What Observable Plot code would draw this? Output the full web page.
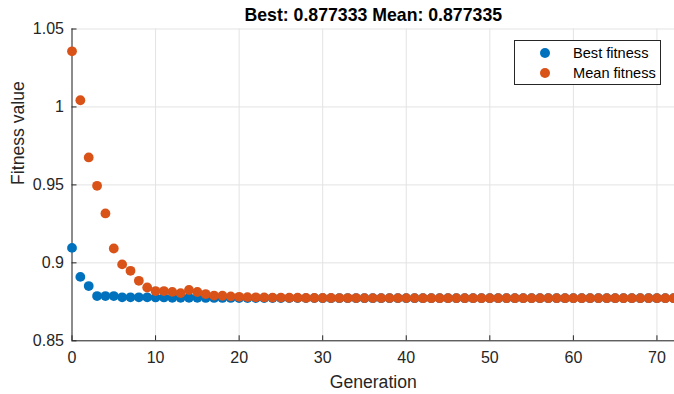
<!DOCTYPE html>
<html>
<head>
<meta charset="utf-8">
<script src="https://cdn.jsdelivr.net/npm/d3@7"></script>
<script src="https://cdn.jsdelivr.net/npm/@observablehq/plot@0.6"></script>
<style>
  html, body { margin: 0; padding: 0; background: #fff; }
  #wrap { position: relative; width: 674px; height: 394px; font-family: "Liberation Sans", Arial, Helvetica, sans-serif; }
  #legend { position: absolute; left: 514px; top: 40px; width: 147px; height: 45px; border: 1px solid #262626; background: #fff; box-sizing: border-box; font-size: 14.6px; color: #000; }
  .row { position: absolute; left: 0; height: 18px; line-height: 18px; white-space: nowrap; }
  .dot { position: absolute; left: 25px; top: 4px; width: 10px; height: 10px; border-radius: 50%; }
  .lab { position: absolute; left: 58px; top: 0; }
</style>
</head>
<body>
<div id="wrap"></div>
<script>
const title = "Best: 0.877333 Mean: 0.877335";
const xLabel = "Generation";
const yLabel = "Fitness value";
const seriesNames = ["Best fitness", "Mean fitness"];
const seriesColors = ["#0072BD", "#D95319"];
const xTicks = [0, 10, 20, 30, 40, 50, 60, 70];
const yTicks = [0.85, 0.9, 0.95, 1, 1.05];
const yTickLabels = ["0.85", "0.9", "0.95", "1", "1.05"];

const bestFitness = [
  0.9096, 0.8910, 0.8851, 0.8787, 0.8787, 0.8787, 0.8779, 0.8779, 0.8779, 0.8779,
  0.8778, 0.8778, 0.8776, 0.8776, 0.8776, 0.8776, 0.8775, 0.8775, 0.8775, 0.8775,
  0.8774, 0.8774, 0.8774, 0.8774, 0.8774, 0.87737, 0.87737, 0.87737, 0.87736, 0.87736,
  0.87735, 0.87735, 0.87735, 0.87735, 0.87734, 0.87734, 0.87734, 0.87734, 0.87734, 0.87734,
  0.877335, 0.877335, 0.877335, 0.877335, 0.877335, 0.877335, 0.877334, 0.877334, 0.877334, 0.877334,
  0.877334, 0.877334, 0.877334, 0.877334, 0.877333, 0.877333, 0.877333, 0.877333, 0.877333, 0.877333,
  0.877333, 0.877333, 0.877333, 0.877333, 0.877333, 0.877333, 0.877333, 0.877333, 0.877333, 0.877333,
  0.877333, 0.877333, 0.877333
];
const meanFitness = [
  1.0357, 1.0043, 0.9676, 0.9494, 0.9317, 0.9092, 0.8990, 0.8949, 0.8885, 0.8842,
  0.8819, 0.8819, 0.8814, 0.8806, 0.8826, 0.8813, 0.8800, 0.8790, 0.8789, 0.8785,
  0.8782, 0.8780, 0.8779, 0.8778, 0.8777, 0.8777, 0.8776, 0.8776, 0.8775, 0.8775,
  0.87745, 0.87745, 0.8774, 0.8774, 0.8774, 0.87738, 0.87738, 0.87737, 0.87737, 0.87736,
  0.87736, 0.87736, 0.87735, 0.87735, 0.87735, 0.87735, 0.87734, 0.87734, 0.87734, 0.87734,
  0.87734, 0.87734, 0.877336, 0.877336, 0.877336, 0.877336, 0.877335, 0.877335, 0.877335, 0.877335,
  0.877335, 0.877335, 0.877335, 0.877335, 0.877335, 0.877335, 0.877335, 0.877335, 0.877335, 0.877335,
  0.877335, 0.877335, 0.877335
];

const data = [];
bestFitness.forEach((v, i) => data.push({gen: i, value: v, series: seriesNames[0]}));
meanFitness.forEach((v, i) => data.push({gen: i, value: v, series: seriesNames[1]}));

const ink = "#262626";
const grid = "#e3e3e3";

const chart = Plot.plot({
  width: 674,
  height: 394,
  marginLeft: 71.5,
  marginRight: 0,
  marginTop: 28.5,
  marginBottom: 53.7,
  style: {fontFamily: '"Liberation Sans", Arial, Helvetica, sans-serif', background: "#fff", overflow: "hidden"},
  x: {domain: [0, 72.1]},
  y: {domain: [0.85, 1.05]},
  color: {domain: seriesNames, range: seriesColors},
  marks: [
    Plot.gridX(xTicks, {stroke: grid, strokeOpacity: 1}),
    Plot.gridY(yTicks, {stroke: grid, strokeOpacity: 1}),
    Plot.axisX(xTicks, {tickSize: -5, stroke: ink, strokeWidth: 1, text: null, label: null}),
    Plot.axisX(xTicks, {tickSize: 0, tickPadding: 11, fontSize: 16, fill: ink, label: null, tickFormat: d => String(d)}),
    Plot.axisY(yTicks, {tickSize: -5, stroke: ink, strokeWidth: 1, text: null, label: null}),
    Plot.axisY(yTicks, {tickSize: 0, tickPadding: 8, fontSize: 16, fill: ink, label: null, tickFormat: (d, i) => yTickLabels[i]}),
    Plot.ruleX([0], {stroke: ink, strokeWidth: 1}),
    Plot.ruleY([0.85], {stroke: ink, strokeWidth: 1}),
    Plot.dot(data, {x: "gen", y: "value", fill: "series", r: 4.9, stroke: null}),
    Plot.text([title], {frameAnchor: "top", dy: -14, fontSize: 17.7, fontWeight: "bold", fill: "#000", lineAnchor: "middle"}),
    Plot.text([xLabel], {frameAnchor: "bottom", dy: 42, fontSize: 17.6, fill: ink, lineAnchor: "middle"}),
    Plot.text([yLabel], {frameAnchor: "left", dx: -54, rotate: -90, fontSize: 17.6, fill: ink, lineAnchor: "middle"})
  ]
});

const wrap = document.getElementById("wrap");
wrap.appendChild(chart);

const legend = document.createElement("div");
legend.id = "legend";
seriesNames.forEach((name, i) => {
  const row = document.createElement("div");
  row.className = "row";
  row.style.top = (3 + i * 20) + "px";
  row.style.width = "100%";
  const dot = document.createElement("span");
  dot.className = "dot";
  dot.style.background = seriesColors[i];
  const lab = document.createElement("span");
  lab.className = "lab";
  lab.textContent = name;
  row.appendChild(dot);
  row.appendChild(lab);
  legend.appendChild(row);
});
wrap.appendChild(legend);
</script>
</body>
</html>
